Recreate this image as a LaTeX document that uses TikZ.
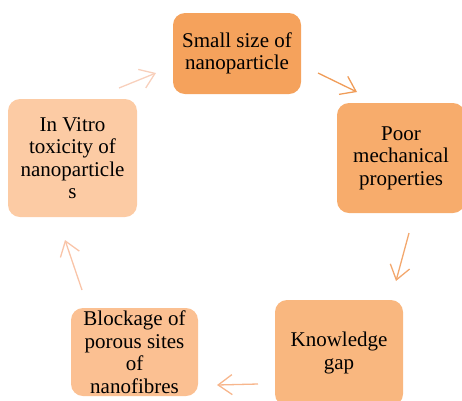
\documentclass[tikz,border=0pt]{standalone}
\usepackage{fontspec}
\setmainfont{Liberation Serif}
\usetikzlibrary{arrows.meta}
\definecolor{cA}{HTML}{F5A25C}
\definecolor{cB}{HTML}{F7AC6C}
\definecolor{cC}{HTML}{F9B77F}
\definecolor{cD}{HTML}{FBC092}
\definecolor{cE}{HTML}{FCCBA4}
\definecolor{aA}{HTML}{F8D0BC}
\definecolor{aB}{HTML}{F09C58}
\definecolor{aC}{HTML}{F3A86E}
\definecolor{aD}{HTML}{F7B68C}
\definecolor{aE}{HTML}{F9C4A8}
\tikzset{
  cyclebox/.style={rounded corners=12pt, minimum width=128pt, inner sep=0pt, align=center,
    font=\fontsize{21}{22.5}\selectfont},
  cyclearrow/.style={line width=1.3pt, -{Straight Barb[length=14pt,width=20pt,line width=1.3pt]}}
}
\begin{document}
\begin{tikzpicture}[x=1pt,y=-1pt]
\useasboundingbox (0,0) rectangle (462,400);
\node[cyclebox, fill=cA, minimum height=81pt] (b1) at (237,53.5) {Small size of\\nanoparticle};
\node[cyclebox, fill=cB, minimum height=110pt] (b2) at (401,158) {Poor\\mechanical\\properties};
\node[cyclebox, fill=cC, minimum height=106pt] (b3) at (339,353) {Knowledge\\gap};
\node[cyclebox, fill=cD, minimum width=127pt, minimum height=88pt] (b4) at (134.5,352) {Blockage of\\porous sites\\of\\nanofibres};
\node[cyclebox, fill=cE, minimum width=129pt, minimum height=118pt] (b5) at (72.5,158) {In Vitro\\toxicity of\\nanoparticle\\s};
\coordinate (a1s) at (119,88); \coordinate (a1e) at (156,73);
\coordinate (a2s) at (318,73); \coordinate (a2e) at (357,92);
\coordinate (a3s) at (409,233); \coordinate (a3e) at (396,281);
\coordinate (a4s) at (258,384); \coordinate (a4e) at (217,385);
\coordinate (a5s) at (82,290); \coordinate (a5e) at (65,240);
\draw[cyclearrow, aA] (a1s) -- (a1e);
\draw[cyclearrow, aB] (a2s) -- (a2e);
\draw[cyclearrow, aC] (a3s) -- (a3e);
\draw[cyclearrow, aD] (a4s) -- (a4e);
\draw[cyclearrow, aE] (a5s) -- (a5e);
\end{tikzpicture}
\end{document}
